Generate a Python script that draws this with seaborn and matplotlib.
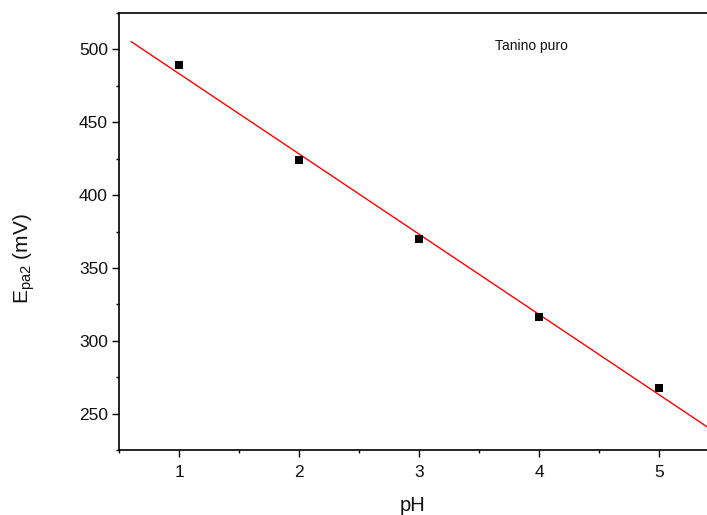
import numpy as np
import pandas as pd
import matplotlib
matplotlib.use("Agg")
import matplotlib.pyplot as plt
import seaborn as sns
from matplotlib.ticker import MultipleLocator

ph = [1, 2, 3, 4, 5]
epa2 = [489.0, 423.8, 369.6, 316.0, 267.4]
fit_range = [0.6, 5.4]
annotation = "Tanino puro"

sns.set_theme(style="white")
plt.rcParams['font.family'] = ['Liberation Sans', 'DejaVu Sans']
plt.rcParams['mathtext.fontset'] = 'custom'
plt.rcParams['mathtext.rm'] = 'Liberation Sans'

df = pd.DataFrame({"pH": ph, "E": epa2})
slope, intercept = np.polyfit(ph, epa2, 1)
fit_df = pd.DataFrame({"pH": fit_range,
                       "E": [slope * x + intercept for x in fit_range]})

fig = plt.figure(figsize=(7.07, 5.15), dpi=100)
ax = fig.add_axes([119/707, 65/515, 1 - 119/707, (450-13)/515])

sns.lineplot(data=fit_df, x="pH", y="E", ax=ax, color="red", linewidth=1.0)
sns.scatterplot(data=df, x="pH", y="E", ax=ax, marker="s", s=36,
                color="black", edgecolor="black", linewidth=0, zorder=3)

ax.set_xlim(0.5, 5.4)
ax.set_ylim(225, 525)
ax.xaxis.set_major_locator(MultipleLocator(1))
ax.xaxis.set_minor_locator(MultipleLocator(0.5))
ax.yaxis.set_major_locator(MultipleLocator(50))
ax.yaxis.set_minor_locator(MultipleLocator(25))

ax.tick_params(axis='both', which='major', direction='out', length=5,
               width=1.0, labelsize=12.5, color='black', labelcolor='#111111',
               pad=3)
ax.tick_params(axis='x', which='major', pad=6)
ax.tick_params(axis='both', which='minor', direction='out', length=2.5,
               width=1.0, color='black')
ax.tick_params(axis='x', which='both', bottom=True, top=False)
ax.tick_params(axis='y', which='both', left=True, right=False)

for s in ['left', 'bottom', 'top']:
    ax.spines[s].set_visible(True)
    ax.spines[s].set_color('black')
    ax.spines[s].set_linewidth(1.2)
ax.spines['right'].set_visible(False)

ax.set_xlabel("pH", fontsize=14.5, labelpad=11, color='#111111')
ax.set_ylabel(r"E$_{\mathregular{pa2}}$ (mV)", fontsize=15, color='#111111')
ax.yaxis.set_label_coords(-0.14, 0.437)

fig.canvas.draw()
inv = ax.transData.inverted()
xd, yd = inv.transform((495, 515 - 46))
ax.text(xd, yd, annotation, fontsize=10, va='center', ha='left',
        color='#111111')

fig.savefig("out.png", dpi=100)
